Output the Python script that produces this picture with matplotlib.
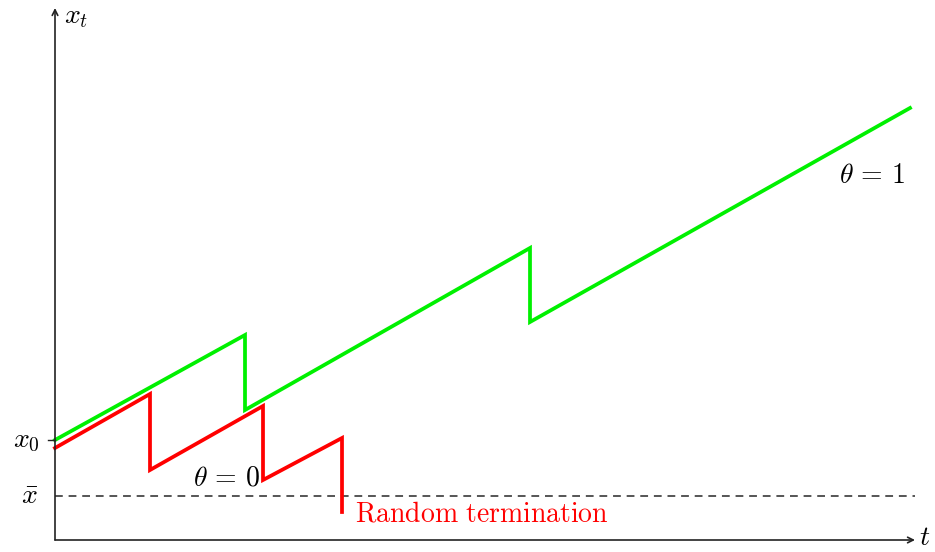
import matplotlib
matplotlib.use("Agg")
import matplotlib.pyplot as plt

plt.rcParams['mathtext.fontset'] = 'cm'

# Data (t, x_t)
green_t = [0.0, 1.90, 1.90, 4.75, 4.75, 8.55]
green_x = [1.00, 2.05, 1.30, 2.92, 2.18, 4.32]
red_t = [0.0, 0.95, 0.95, 2.08, 2.08, 2.87, 2.87]
red_x = [0.92, 1.46, 0.70, 1.34, 0.60, 1.02, 0.28]
x0 = 1.00
xbar = 0.44
t_max = 8.60
y_max = 5.32

fig = plt.figure(figsize=(9.35, 5.52), dpi=100)
ax = fig.add_axes([0, 0, 1, 1])
ax.set_xlim(-0.55, 8.80)
ax.set_ylim(-0.12, 5.40)
ax.axis('off')

# axes with arrows
ax.annotate('', xy=(t_max, 0), xytext=(0, 0),
            arrowprops=dict(arrowstyle='->', lw=1.2, color='#222222', shrinkA=0, shrinkB=0))
ax.annotate('', xy=(0, y_max), xytext=(0, 0),
            arrowprops=dict(arrowstyle='->', lw=1.2, color='#222222', shrinkA=0, shrinkB=0))

# dashed threshold
ax.plot([0, t_max], [xbar, xbar], ls=(0, (4, 3)), color='#555555', lw=1.4)

ax.plot(green_t, green_x, color='#00f000', lw=2.7, solid_joinstyle='miter')
ax.plot(red_t, red_x, color='#ff0000', lw=2.7, solid_joinstyle='miter')

# tick at x0
ax.plot([-0.07, 0], [x0, x0], color='#222222', lw=1.0)

fs = 20
ax.text(-0.15, x0, r'$x_0$', ha='right', va='center', fontsize=fs)
ax.text(-0.17, xbar, r'$\bar{x}$', ha='right', va='center', fontsize=fs)
ax.text(0.09, 5.24, r'$x_t$', ha='left', va='center', fontsize=fs)
ax.text(t_max + 0.04, 0.03, r'$t$', ha='left', va='center', fontsize=fs)
ax.text(8.17, 3.65, r'$\theta \,=\, 1$', ha='center', va='center', fontsize=fs)
ax.text(1.72, 0.62, r'$\theta \,=\, 0$', ha='center', va='center', fontsize=fs)
ax.text(3.00, 0.26, r'$\mathrm{Random\ termination}$', ha='left', va='center',
        fontsize=fs, color='#ff0000')

fig.savefig('out.png', dpi=100)
